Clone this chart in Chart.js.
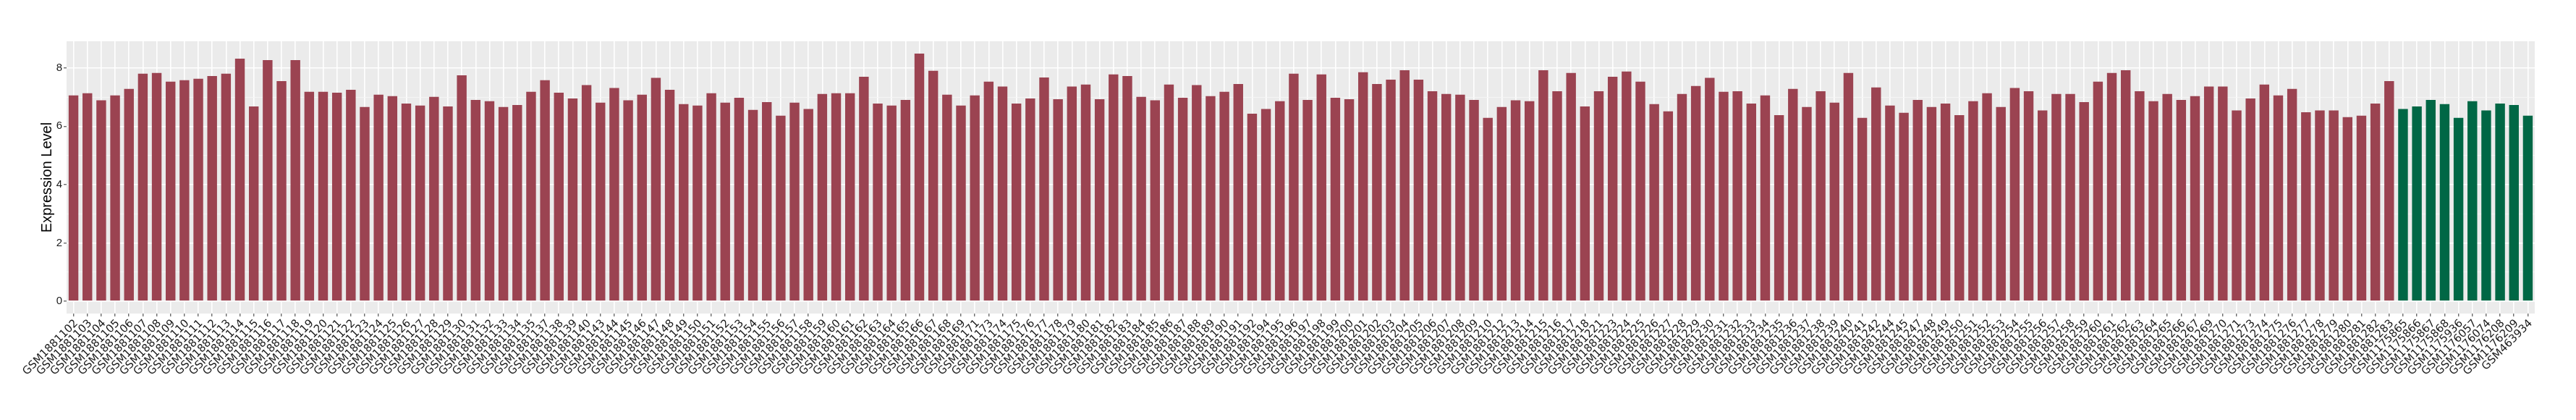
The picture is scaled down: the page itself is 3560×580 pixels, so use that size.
<!DOCTYPE html>
<html>
<head>
<meta charset="utf-8">
<title>Expression Level</title>
<script src="https://cdn.jsdelivr.net/npm/chart.js@4.4.1/dist/chart.umd.min.js"></script>
<style>
  html, body { margin: 0; padding: 0; background: #fff; }
</style>
</head>
<body>
<canvas id="barChart" width="3560" height="580"></canvas>

<script>
// samples of the first group (red bars)
var tumorSamples = [
  "GSM1881102","GSM1881103","GSM1881104","GSM1881105","GSM1881106","GSM1881107","GSM1881108","GSM1881109",
  "GSM1881110","GSM1881111","GSM1881112","GSM1881113","GSM1881114","GSM1881115","GSM1881116","GSM1881117",
  "GSM1881118","GSM1881119","GSM1881120","GSM1881121","GSM1881122","GSM1881123","GSM1881124","GSM1881125",
  "GSM1881126","GSM1881127","GSM1881128","GSM1881129","GSM1881130","GSM1881131","GSM1881132","GSM1881133",
  "GSM1881134","GSM1881135","GSM1881137","GSM1881138","GSM1881139","GSM1881140","GSM1881143","GSM1881144",
  "GSM1881145","GSM1881146","GSM1881147","GSM1881148","GSM1881149","GSM1881150","GSM1881151","GSM1881152",
  "GSM1881153","GSM1881154","GSM1881155","GSM1881156","GSM1881157","GSM1881158","GSM1881159","GSM1881160",
  "GSM1881161","GSM1881162","GSM1881163","GSM1881164","GSM1881165","GSM1881166","GSM1881167","GSM1881168",
  "GSM1881169","GSM1881171","GSM1881173","GSM1881174","GSM1881175","GSM1881176","GSM1881177","GSM1881178",
  "GSM1881179","GSM1881180","GSM1881181","GSM1881182","GSM1881183","GSM1881184","GSM1881185","GSM1881186",
  "GSM1881187","GSM1881188","GSM1881189","GSM1881190","GSM1881191","GSM1881192","GSM1881194","GSM1881195",
  "GSM1881196","GSM1881197","GSM1881198","GSM1881199","GSM1881200","GSM1881201","GSM1881202","GSM1881203",
  "GSM1881204","GSM1881205","GSM1881206","GSM1881207","GSM1881208","GSM1881209","GSM1881210","GSM1881212",
  "GSM1881213","GSM1881214","GSM1881215","GSM1881216","GSM1881217","GSM1881218","GSM1881221","GSM1881223",
  "GSM1881224","GSM1881225","GSM1881226","GSM1881227","GSM1881228","GSM1881229","GSM1881230","GSM1881231",
  "GSM1881232","GSM1881233","GSM1881234","GSM1881235","GSM1881236","GSM1881237","GSM1881238","GSM1881239",
  "GSM1881240","GSM1881241","GSM1881242","GSM1881244","GSM1881245","GSM1881247","GSM1881248","GSM1881249",
  "GSM1881250","GSM1881251","GSM1881252","GSM1881253","GSM1881254","GSM1881255","GSM1881256","GSM1881257",
  "GSM1881258","GSM1881259","GSM1881260","GSM1881261","GSM1881262","GSM1881263","GSM1881264","GSM1881265",
  "GSM1881266","GSM1881267","GSM1881269","GSM1881270","GSM1881271","GSM1881273","GSM1881274","GSM1881275",
  "GSM1881276","GSM1881277","GSM1881278","GSM1881279","GSM1881280","GSM1881281","GSM1881282","GSM1881283"
];
var tumorValues = [
  7.06, 7.13, 6.89, 7.06, 7.28, 7.80, 7.83, 7.53, 7.58, 7.63, 7.72, 7.80, 8.32, 6.68, 8.27, 7.55,
  8.27, 7.18, 7.18, 7.15, 7.25, 6.66, 7.08, 7.03, 6.78, 6.71, 7.01, 6.68, 7.75, 6.90, 6.86, 6.66,
  6.73, 7.18, 7.58, 7.15, 6.95, 7.41, 6.81, 7.31, 6.89, 7.08, 7.66, 7.25, 6.76, 6.71, 7.13, 6.81,
  6.98, 6.56, 6.83, 6.36, 6.81, 6.59, 7.11, 7.13, 7.13, 7.70, 6.78, 6.71, 6.90, 8.49, 7.90, 7.08,
  6.71, 7.06, 7.53, 7.36, 6.78, 6.95, 7.67, 6.93, 7.36, 7.43, 6.93, 7.78, 7.72, 7.01, 6.89, 7.43,
  6.98, 7.41, 7.03, 7.18, 7.45, 6.43, 6.59, 6.86, 7.80, 6.90, 7.78, 6.98, 6.93, 7.85, 7.45, 7.60,
  7.92, 7.60, 7.20, 7.11, 7.08, 6.90, 6.29, 6.66, 6.89, 6.86, 7.92, 7.20, 7.83, 6.68, 7.20, 7.70,
  7.88, 7.53, 6.76, 6.51, 7.11, 7.38, 7.66, 7.18, 7.20, 6.78, 7.06, 6.38, 7.28, 6.66, 7.20, 6.81,
  7.83, 6.29, 7.33, 6.71, 6.46, 6.90, 6.66, 6.78, 6.38, 6.86, 7.13, 6.66, 7.31, 7.20, 6.54, 7.11,
  7.11, 6.83, 7.53, 7.83, 7.92, 7.20, 6.86, 7.11, 6.90, 7.03, 7.36, 7.36, 6.54, 6.95, 7.43, 7.06,
  7.28, 6.48, 6.54, 6.54, 6.31, 6.36, 6.78, 7.55
];

// samples of the second group (green bars)
var normalSamples = [
  "GSM1175865","GSM1175866","GSM1175867","GSM1175868","GSM1175936",
  "GSM1176057","GSM1176074","GSM1176208","GSM1176209","GSM463934"
];
var normalValues = [6.59, 6.68, 6.90, 6.76, 6.29, 6.86, 6.54, 6.78, 6.73, 6.36];

var yGridValues = [0, 1, 2, 3, 4, 5, 6, 7, 8];

var tumorColor = "#9B4351";
var normalColor = "#006745";

var allLabels = tumorSamples.concat(normalSamples);
var allValues = tumorValues.concat(normalValues);
var barColors = tumorSamples.map(function () { return tumorColor; })
  .concat(normalSamples.map(function () { return normalColor; }));

var yTop = Math.max.apply(null, allValues);

// grey panel like ggplot
var panelBg = {
  id: 'panelBg',
  beforeDraw: function (chart) {
    var a = chart.chartArea, ctx = chart.ctx;
    ctx.save();
    ctx.fillStyle = "#EBEBEB";
    ctx.fillRect(a.left, a.top, a.right - a.left, a.bottom - a.top);
    ctx.restore();
  }
};

new Chart(document.getElementById("barChart").getContext("2d"), {
  type: 'bar',
  data: {
    labels: allLabels,
    datasets: [{
      label: 'Expression Level',
      data: allValues,
      backgroundColor: barColors,
      borderWidth: 0,
      barPercentage: 0.7,
      categoryPercentage: 1.0
    }]
  },
  options: {
    responsive: false,
    animation: false,
    devicePixelRatio: 1,
    layout: { padding: { top: 57, right: 57, left: 0, bottom: 0 } },
    plugins: {
      legend: { display: false },
      tooltip: { enabled: false }
    },
    scales: {
      x: {
        type: 'category',
        afterFit: function (scale) { scale.height = 147; },
        border: { display: false },
        grid: {
          offset: false,
          color: "#FFFFFF",
          lineWidth: 1.6,
          tickColor: "#333333",
          tickLength: 4,
          tickWidth: 1
        },
        ticks: {
          autoSkip: false,
          maxRotation: 45,
          minRotation: 45,
          padding: 1,
          labelOffset: 4,
          color: "#1A1A1A",
          font: { family: "DejaVu Sans", size: 15 }
        }
      },
      y: {
        min: -0.05 * yTop,
        max: yTop * 1.05,
        afterFit: function (scale) { scale.width = 92; },
        afterBuildTicks: function (scale) {
          scale.ticks = yGridValues.map(function (v) { return { value: v }; });
        },
        border: { display: false },
        grid: {
          color: function (c) { return c.tick && c.tick.value % 2 === 0 ? "#FFFFFF" : "#F6F6F6"; },
          lineWidth: function (c) { return c.tick && c.tick.value % 2 === 0 ? 1.6 : 0.9; },
          tickColor: function (c) { return c.tick && c.tick.value % 2 === 0 ? "#333333" : "rgba(0,0,0,0)"; },
          tickLength: 4,
          tickWidth: 1
        },
        ticks: {
          padding: 2,
          color: "#1A1A1A",
          font: { family: "Liberation Sans", size: 15 },
          callback: function (v) { return v % 2 === 0 ? v : ''; }
        },
        title: {
          display: true,
          text: 'Expression Level',
          color: "#000000",
          font: { family: "Liberation Sans", size: 20 },
          padding: { top: 53, bottom: 0 }
        }
      }
    }
  },
  plugins: [panelBg]
});
</script>
</body>
</html>
